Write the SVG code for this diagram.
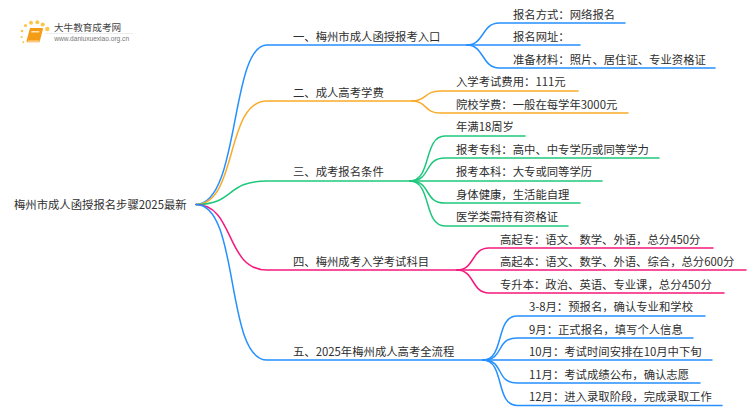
<svg xmlns="http://www.w3.org/2000/svg" width="750" height="410" viewBox="0 0 750 410">
<style>
text{font-family:"Noto Sans CJK SC","Noto Sans",sans-serif;font-size:11.35px;fill:#2e2e2e}
.c path{fill:none;stroke-width:1.5;stroke-linecap:round}
.b{stroke:#2590ff}.o{stroke:#f9ac2a}.g{stroke:#1fc77d}.p{stroke:#f5197c}
.d{fill:#fbc64d}
</style>
<rect width="750" height="410" fill="#fff"/>
<g id="logo">
<circle class="d" cx="22" cy="31" r="1.300"/><circle class="d" cx="21.700" cy="37" r="1.100"/><circle class="d" cx="23.300" cy="42.300" r="1"/>
<circle class="d" cx="25.500" cy="25.500" r="1.600"/><circle class="d" cx="31" cy="22.700" r="2"/><circle class="d" cx="37.300" cy="22.300" r="2"/><circle class="d" cx="42.700" cy="24.500" r="2.100"/><circle class="d" cx="47.300" cy="29" r="2.200"/>
<path d="M30 28h12.500l.5 1-3.500 13.300h-12.500l-.5-1.300z" fill="#f59c16"/><path d="M28 40.500h11.500l-.4 1.200h-11.600z" fill="#fbd9a0"/><path d="M31.500 31h8l-.4 1.500h-8z" fill="#fde3b0"/>
<text x="54" y="31" style="font-size:9.600px;fill:#444">大牛教育成考网</text>
<path d="M45 33.500h88" stroke="#e6e6e6" stroke-width=".7"/>
<text x="54.300" y="41" style="font-size:6.600px;fill:#777;font-family:'Liberation Sans',sans-serif">www.daniuxuexiao.org.cn</text>
</g>
<g id="connectors" class="c">
<path class="b" d="M196 204.500C240 204.500 230 45 267 45H467"/>
<path class="o" d="M196 204.500C238 204.500 225 101 267 101H412"/>
<path class="g" d="M196 204.500C235 204.500 225 181 267 181H410"/>
<path class="p" d="M196 204.500C235 204.500 225 270 267 270H457"/>
<path class="b" d="M196 204.500C240 204.500 225 360 267 360H483"/>
<path class="b" d="M467 45C484 45 482 23 499 23H625"/><path class="b" d="M467 45H580"/><path class="b" d="M467 45C484 45 482 68 499 68H715"/>
<path class="o" d="M412 101C427 101 424 91 440 91H578"/><path class="o" d="M412 101C427 101 424 113 440 113H628"/>
<path class="g" d="M410 181C432 181 423 136 445 136H525"/><path class="g" d="M410 181C432 181 423 158 445 158H659"/><path class="g" d="M410 181H602"/><path class="g" d="M410 181C432 181 423 203 445 203H580"/><path class="g" d="M410 181C432 181 423 226 445 226H568"/>
<path class="p" d="M457 270C475 270 471 248 489 248H713"/><path class="p" d="M457 270H746"/><path class="p" d="M457 270C475 270 471 293 489 293H724"/>
<path class="b" d="M483 360C505 360 495 316 517 316H705"/><path class="b" d="M483 360C505 360 495 338 517 338H693"/><path class="b" d="M483 360H712"/><path class="b" d="M483 360C505 360 495 383 517 383H700"/><path class="b" d="M483 360C505 360 495 405.500 517 405.500H722"/>
</g>
<g id="root"><text x="14" y="208.500">梅州市成人函授报名步骤2025最新</text></g>
<g id="n1"><text x="293" y="41">一、梅州市成人函授报考入口</text></g>
<g id="n1-1"><text x="513" y="19">报名方式：网络报名</text></g>
<g id="n1-2"><text x="513" y="41">报名网址：</text></g>
<g id="n1-3"><text x="513" y="64">准备材料：照片、居住证、专业资格证</text></g>
<g id="n2"><text x="293" y="97">二、成人高考学费</text></g>
<g id="n2-1"><text x="456" y="86">入学考试费用：111元</text></g>
<g id="n2-2"><text x="456" y="109">院校学费：一般在每学年3000元</text></g>
<g id="n3"><text x="293" y="176">三、成考报名条件</text></g>
<g id="n3-1"><text x="456" y="131">年满18周岁</text></g>
<g id="n3-2"><text x="456" y="154">报考专科：高中、中专学历或同等学力</text></g>
<g id="n3-3"><text x="456" y="176">报考本科：大专或同等学历</text></g>
<g id="n3-4"><text x="456" y="199">身体健康，生活能自理</text></g>
<g id="n3-5"><text x="456" y="221">医学类需持有资格证</text></g>
<g id="n4"><text x="293" y="266">四、梅州成考入学考试科目</text></g>
<g id="n4-1"><text x="500" y="244">高起专：语文、数学、外语，总分450分</text></g>
<g id="n4-2"><text x="500" y="266">高起本：语文、数学、外语、综合，总分600分</text></g>
<g id="n4-3"><text x="500" y="289">专升本：政治、英语、专业课，总分450分</text></g>
<g id="n5"><text x="293" y="356">五、2025年梅州成人高考全流程</text></g>
<g id="n5-1"><text x="529" y="311">3-8月：预报名，确认专业和学校</text></g>
<g id="n5-2"><text x="529" y="334">9月：正式报名，填写个人信息</text></g>
<g id="n5-3"><text x="529" y="356">10月：考试时间安排在10月中下旬</text></g>
<g id="n5-4"><text x="529" y="379">11月：考试成绩公布，确认志愿</text></g>
<g id="n5-5"><text x="529" y="401">12月：进入录取阶段，完成录取工作</text></g>
</svg>
